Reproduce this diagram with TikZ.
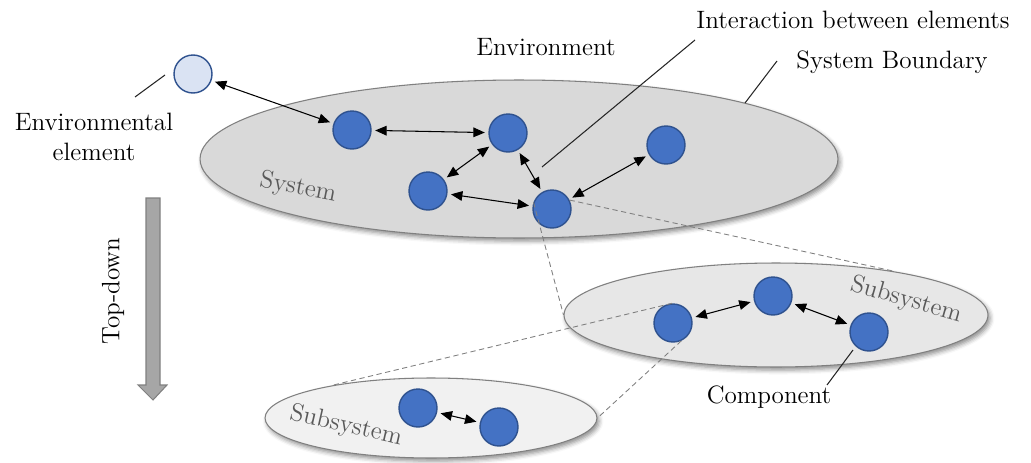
\documentclass[tikz,border=0pt]{standalone}
\usetikzlibrary{arrows.meta,shapes.geometric,shadows.blur}

\definecolor{compfill}{HTML}{4472C4}
\definecolor{compedge}{HTML}{2F528F}
\definecolor{envfill}{HTML}{DAE3F3}
\definecolor{sysfill}{HTML}{D9D9D9}
\definecolor{subfillA}{HTML}{E7E7E7}
\definecolor{subfillB}{HTML}{F1F1F1}
\definecolor{rimgray}{HTML}{808080}
\definecolor{tagtext}{HTML}{595959}
\definecolor{arrowfill}{HTML}{A6A6A6}

\begin{document}
\begin{tikzpicture}[x=0.02cm,y=-0.02cm,
  comp/.style={circle, draw=compedge, fill=compfill, line width=0.8pt,
               minimum size=0.76cm, inner sep=0pt},
  envcomp/.style={comp, fill=envfill},
  region/.style={ellipse, draw=rimgray, line width=0.6pt, inner sep=0pt,
                 blur shadow={shadow xshift=1.2pt, shadow yshift=-1.8pt,
                              shadow blur radius=2.5pt, shadow opacity=45}},
  link/.style={{Triangle[length=6.5pt,width=5.5pt]}-{Triangle[length=6.5pt,width=5.5pt]},
               line width=0.6pt, shorten <=2pt, shorten >=2pt},
  lead/.style={draw=black!85, line width=0.6pt},
  zoomline/.style={draw=rimgray, dash pattern=on 3pt off 2pt, line width=0.5pt},
  lbl/.style={font=\fontsize{14.3}{17.5}\selectfont, inner sep=0pt, align=center},
  tag/.style={lbl, text=tagtext}]

\useasboundingbox (0,0) rectangle (1031,463);

% system and subsystem regions
\node[region, fill=sysfill, minimum width=12.76cm, minimum height=3.16cm] (sys) at (519,159) {};
\node[region, fill=subfillA, minimum width=8.48cm, minimum height=2.08cm] (subA) at (776,315) {};
\node[region, fill=subfillB, minimum width=6.64cm, minimum height=1.60cm] (subB) at (431,418) {};

\node[tag, rotate=-11] (systag) at (298,188) {System};
\node[tag, rotate=-16] (subAtag) at (906,300) {Subsystem};
\node[tag, rotate=-13] (subBtag) at (346,426) {Subsystem};

% elements
\node[envcomp] (env) at (193,74) {};
\node[comp] (a) at (352,130) {};
\node[comp] (b) at (508,133) {};
\node[comp] (c) at (428,191) {};
\node[comp] (d) at (552,209) {};
\node[comp] (e) at (666,145) {};
\node[comp] (f) at (673,323) {};
\node[comp] (g) at (773,296) {};
\node[comp] (h) at (869,332) {};
\node[comp] (i) at (418,408) {};
\node[comp] (j) at (499,427) {};

% interactions
\draw[link] (env) -- (a);
\draw[link] (a) -- (b);
\draw[link] (c) -- (b);
\draw[link] (c) -- (d);
\draw[link] (b) -- (d);
\draw[link] (d) -- (e);
\draw[link] (f) -- (g);
\draw[link] (g) -- (h);
\draw[link] (i) -- (j);

% zoom guides
\draw[zoomline] (d.160) -- (subA.west);
\draw[zoomline] (d.27) -- (subA.20);
\draw[zoomline] (f.93) -- (subB.162);
\draw[zoomline] (f.-65) -- (subB.east);

% labels with leader lines
\node[lbl] (envlbl) at (94,137) {Environmental\\element};
\coordinate (envlead1) at (135,97);
\coordinate (envlead2) at (165,75);
\draw[lead] (envlead1) -- (envlead2);

\node[lbl] (environment) at (546,47) {Environment};

\node[lbl] (interlbl) at (853,20) {Interaction between elements};
\coordinate (interlead1) at (695,40);
\coordinate (interlead2) at (542,167);
\draw[lead] (interlead1) -- (interlead2);

\node[lbl] (boundlbl) at (892,62) {System Boundary};
\coordinate (boundlead1) at (777,61);
\coordinate (boundlead2) at (745,103);
\draw[lead] (boundlead1) -- (boundlead2);

\node[lbl] (complbl) at (769,397) {Component};
\coordinate (complead1) at (853,350);
\coordinate (complead2) at (827,385);
\draw[lead] (complead1) -- (complead2);

% top-down arrow
\draw[draw=rimgray, fill=arrowfill, line width=0.6pt]
  (146,198) -- (160,198) -- (160,385) -- (167,385) -- (153,400)
  -- (138,385) -- (146,385) -- cycle;
\node[lbl, rotate=90] (topdown) at (113,291) {Top-down};

\end{tikzpicture}
\end{document}
